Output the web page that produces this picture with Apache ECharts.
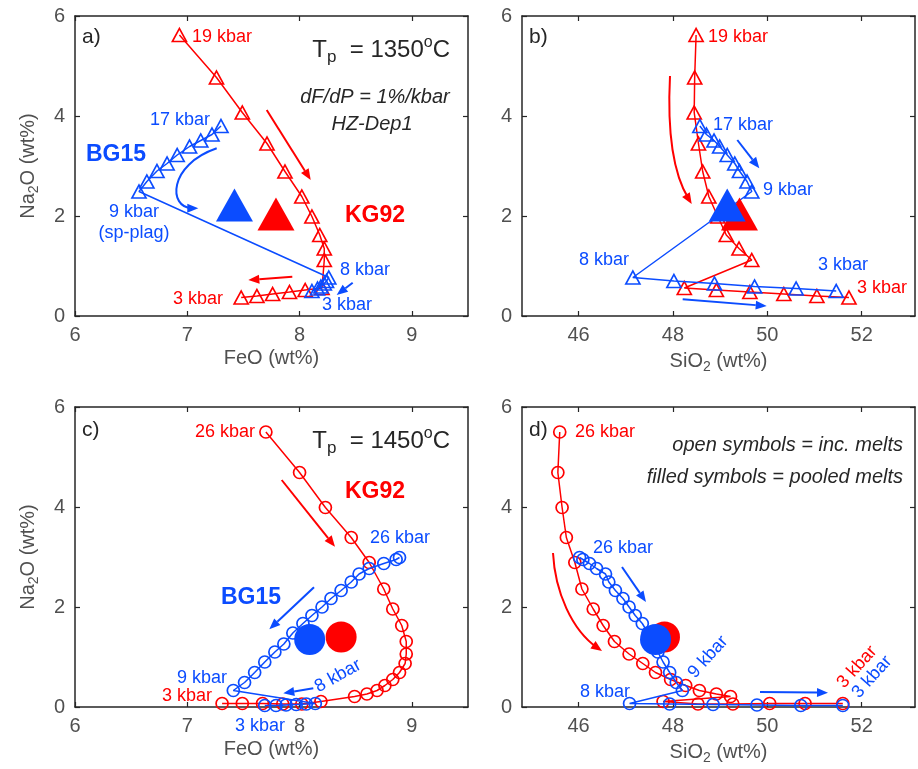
<!DOCTYPE html>
<html><head><meta charset="utf-8">
<script src="https://cdn.jsdelivr.net/npm/echarts@6/dist/echarts.min.js"></script>
<style>html,body{margin:0;padding:0;background:#fff}#c{width:918px;height:769px}</style>
</head><body><div id="c"></div>
<script>
// ---------- DATA ----------
// Tp = 1350 C, KG92 incremental melts (19 kbar -> 3 kbar)
const kg1350_FeO  = [6.93, 7.26, 7.49, 7.71, 7.87, 8.02, 8.11, 8.18, 8.22, 8.22, 8.20, 8.05, 7.91, 7.76, 7.62, 7.48];
const kg1350_SiO2 = [48.49, 48.46, 48.45, 48.54, 48.63, 48.76, 48.95, 49.13, 49.40, 49.67, 48.24, 48.92, 49.63, 50.35, 51.05, 51.73];
const kg1350_Na2O = [5.62, 4.77, 4.07, 3.45, 2.89, 2.39, 1.99, 1.62, 1.35, 1.12, 0.56, 0.52, 0.48, 0.44, 0.40, 0.37];
// Tp = 1350 C, BG15 incremental melts (17 kbar -> 3 kbar)
const bg1350_FeO  = [7.30, 7.22, 7.12, 7.02, 6.91, 6.82, 6.73, 6.64, 6.57, 8.26, 8.24, 8.22, 8.19, 8.16, 8.11];
const bg1350_SiO2 = [48.57, 48.71, 48.87, 48.99, 49.15, 49.31, 49.41, 49.57, 49.67, 47.15, 48.02, 48.88, 49.73, 50.61, 51.46];
const bg1350_Na2O = [3.80, 3.63, 3.51, 3.39, 3.22, 3.05, 2.90, 2.69, 2.49, 0.77, 0.70, 0.65, 0.59, 0.55, 0.50];
// Tp = 1350 C pooled melts
const pooled1350_kg = {FeO: 7.79, SiO2: 49.41, Na2O: 2.04};
const pooled1350_bg = {FeO: 7.42, SiO2: 49.15, Na2O: 2.22};

// Tp = 1450 C, KG92 incremental melts (26 kbar -> 3 kbar)
const kg1450_FeO  = [7.70, 8.00, 8.23, 8.46, 8.62, 8.75, 8.83, 8.91, 8.95, 8.95, 8.94, 8.89, 8.83, 8.76, 8.69, 8.60, 8.49, 8.19, 8.02, 7.85, 7.67, 7.49, 7.31];
const kg1450_SiO2 = [45.60, 45.56, 45.65, 45.74, 45.92, 46.07, 46.31, 46.52, 46.76, 47.07, 47.36, 47.63, 47.95, 48.27, 48.56, 48.92, 49.22, 47.79, 48.53, 49.27, 50.05, 50.80, 51.60];
const kg1450_Na2O = [5.50, 4.69, 3.99, 3.39, 2.89, 2.36, 1.96, 1.63, 1.31, 1.06, 0.87, 0.69, 0.55, 0.43, 0.33, 0.26, 0.21, 0.11, 0.06, 0.06, 0.07, 0.07, 0.07];
// Tp = 1450 C, BG15 incremental melts (26 kbar -> 3 kbar)
const bg1450_FeO  = [8.89, 8.86, 8.75, 8.62, 8.53, 8.46, 8.37, 8.28, 8.20, 8.11, 8.03, 7.94, 7.86, 7.78, 7.69, 7.60, 7.51, 7.41, 8.14, 8.06, 7.97, 7.88, 7.79, 7.69];
const bg1450_SiO2 = [46.02, 46.09, 46.23, 46.38, 46.57, 46.64, 46.78, 46.94, 47.07, 47.20, 47.35, 47.47, 47.58, 47.68, 47.79, 47.93, 48.07, 48.20, 47.08, 47.93, 48.85, 49.78, 50.71, 51.60];
const bg1450_Na2O = [2.99, 2.95, 2.87, 2.77, 2.66, 2.50, 2.33, 2.17, 2.00, 1.83, 1.67, 1.48, 1.26, 1.10, 0.90, 0.69, 0.49, 0.33, 0.07, 0.06, 0.05, 0.04, 0.03, 0.03];
// Tp = 1450 C pooled melts
const pooled1450_kg = {FeO: 8.37, SiO2: 47.82, Na2O: 1.40};
const pooled1450_bg = {FeO: 8.09, SiO2: 47.63, Na2O: 1.35};

// axis ticks
const feoTicks  = [6, 7, 8, 9];
const sioTicks  = [46, 48, 50, 52];
const na2oTicks = [0, 2, 4, 6];

// ---------- STYLE ----------
const RED = '#ff0000', BLUE = '#0b4cff', AX = '#262626', LBL = '#505050';
const FONT = '"Liberation Sans", Arial, Helvetica, sans-serif';

const grids = [
  {left: 75,  top: 16,  width: 393, height: 300},
  {left: 522, top: 16,  width: 393, height: 300},
  {left: 75,  top: 407, width: 393, height: 300},
  {left: 522, top: 407, width: 393, height: 300}
];
const feoName = 'FeO (wt%)';
const sioName = '{n|SiO}{s|2}{n| (wt%)}';
const naName  = '{n|Na}{s|2}{n|O (wt%)}';
const nameRich = {n: {fontSize: 20, fontFamily: FONT, color: LBL}, s: {fontSize: 14, fontFamily: FONT, color: LBL, padding: [12, 0, 0, 0]}};

const xAxes = [], yAxes = [];
grids.forEach((g, i) => {
  const isFeo = (i % 2 === 0);
  const rng = isFeo ? [6, 9.5] : [44.8, 53.13];
  const ticks = isFeo ? feoTicks : sioTicks;
  const common = {gridIndex: i, type: 'value', min: rng[0], max: rng[1], splitLine: {show: false},
    axisLine: {show: true, onZero: false, lineStyle: {color: AX, width: 1.5}},
    axisTick: {show: true, inside: true, length: 5, customValues: ticks, lineStyle: {color: AX, width: 1.2}}};
  xAxes.push(Object.assign({}, common, {position: 'bottom',
    axisLabel: {show: true, customValues: ticks, fontSize: 20, color: LBL, fontFamily: FONT, margin: 9},
    name: isFeo ? feoName : sioName, nameLocation: 'middle', nameGap: 32,
    nameTextStyle: {fontSize: 20, color: LBL, fontFamily: FONT, rich: nameRich}}));
  xAxes.push(Object.assign({}, common, {position: 'top', axisLabel: {show: false}}));
  const yc = {gridIndex: i, type: 'value', min: 0, max: 6, interval: 2, splitLine: {show: false},
    axisLine: {show: true, onZero: false, lineStyle: {color: AX, width: 1.5}},
    axisTick: {show: true, inside: true, length: 5, lineStyle: {color: AX, width: 1.2}}};
  yAxes.push(Object.assign({}, yc, {position: 'left',
    axisLabel: {show: true, fontSize: 20, color: LBL, fontFamily: FONT, margin: 10},
    name: (i % 2 === 0) ? naName : '', nameLocation: 'middle', nameGap: 34,
    nameTextStyle: {fontSize: 20, color: LBL, fontFamily: FONT, rich: nameRich}}));
  yAxes.push(Object.assign({}, yc, {position: 'right', axisLabel: {show: false}}));
});

function pairs(xs, ys) { return xs.map((x, k) => [x, ys[k]]); }
function inc(g, xs, ys, color, symbol, size, z) {
  return {type: 'line', xAxisIndex: 2 * g, yAxisIndex: 2 * g, data: pairs(xs, ys), z: z,
    symbol: symbol, symbolSize: size, showSymbol: true, showAllSymbol: true, animation: false,
    lineStyle: {color: color, width: 1.5}, itemStyle: {color: 'rgba(255,255,255,0)', borderColor: color, borderWidth: 1.7, opacity: 1},
    emphasis: {disabled: true}};
}
function pooled(g, x, y, color, symbol, size, z) {
  return {type: 'scatter', xAxisIndex: 2 * g, yAxisIndex: 2 * g, data: [[x, y]], z: z,
    symbol: symbol, symbolSize: size, itemStyle: {color: color, opacity: 1}, animation: false, emphasis: {disabled: true}};
}
const tri = [14, 13], cir = 12;
const series = [
  inc(0, kg1350_FeO, kg1350_Na2O, RED, 'triangle', tri, 2),
  inc(0, bg1350_FeO, bg1350_Na2O, BLUE, 'triangle', tri, 3),
  pooled(0, pooled1350_kg.FeO, pooled1350_kg.Na2O, RED, 'triangle', [37, 33], 4),
  pooled(0, pooled1350_bg.FeO, pooled1350_bg.Na2O, BLUE, 'triangle', [37, 33], 5),
  inc(1, kg1350_SiO2, kg1350_Na2O, RED, 'triangle', tri, 2),
  inc(1, bg1350_SiO2, bg1350_Na2O, BLUE, 'triangle', tri, 3),
  pooled(1, pooled1350_kg.SiO2, pooled1350_kg.Na2O, RED, 'triangle', [37, 33], 4),
  pooled(1, pooled1350_bg.SiO2, pooled1350_bg.Na2O, BLUE, 'triangle', [37, 33], 5),
  inc(2, kg1450_FeO, kg1450_Na2O, RED, 'circle', cir, 2),
  inc(2, bg1450_FeO, bg1450_Na2O, BLUE, 'circle', cir, 3),
  pooled(2, pooled1450_kg.FeO, pooled1450_kg.Na2O, RED, 'circle', 31, 4),
  pooled(2, pooled1450_bg.FeO, pooled1450_bg.Na2O, BLUE, 'circle', 31, 5),
  inc(3, kg1450_SiO2, kg1450_Na2O, RED, 'circle', cir, 2),
  inc(3, bg1450_SiO2, bg1450_Na2O, BLUE, 'circle', cir, 3),
  pooled(3, pooled1450_kg.SiO2, pooled1450_kg.Na2O, RED, 'circle', 31, 4),
  pooled(3, pooled1450_bg.SiO2, pooled1450_bg.Na2O, BLUE, 'circle', 31, 5)
];

// ---------- ANNOTATIONS (pixel positions) ----------
const G = [];
function txt(x, y, s, color, opt) {
  opt = opt || {};
  G.push({type: 'text', x: x, y: y, z: 100, rotation: (opt.rot || 0) * Math.PI / 180,
    style: {text: s, fill: color, align: opt.align || 'left', verticalAlign: 'middle',
      fontSize: opt.size || 18, fontFamily: FONT, fontWeight: opt.bold ? 'bold' : 'normal',
      fontStyle: opt.italic ? 'italic' : 'normal', rich: opt.rich}});
}
function head(x2, y2, ux, uy, color) {
  const L = 11, W = 4.5, bx = x2 - ux * L, by = y2 - uy * L;
  G.push({type: 'polygon', z: 100, shape: {points: [[x2, y2], [bx - uy * W, by + ux * W], [bx + uy * W, by - ux * W]]}, style: {fill: color}});
  return [bx, by];
}
function arrow(x1, y1, x2, y2, color) {
  const dx = x2 - x1, dy = y2 - y1, l = Math.hypot(dx, dy);
  const b = head(x2, y2, dx / l, dy / l, color);
  G.push({type: 'line', z: 100, shape: {x1: x1, y1: y1, x2: b[0], y2: b[1]}, style: {stroke: color, lineWidth: 2}});
}
function curve(x1, y1, c1x, c1y, c2x, c2y, x2, y2, color) {
  const dx = x2 - c2x, dy = y2 - c2y, l = Math.hypot(dx, dy);
  head(x2, y2, dx / l, dy / l, color);
  G.push({type: 'bezierCurve', z: 100, shape: {x1: x1, y1: y1, cpx1: c1x, cpy1: c1y, cpx2: c2x, cpy2: c2y, x2: x2 - dx / l * 6, y2: y2 - dy / l * 6},
    style: {stroke: color, lineWidth: 2, fill: null}});
}
const tpRich = {t: {fontSize: 24, fontFamily: FONT, color: AX}, s: {fontSize: 17, fontFamily: FONT, color: AX, padding: [15, 0, 0, 0]},
  u: {fontSize: 16, fontFamily: FONT, color: AX, padding: [0, 0, 15, 0]}};

// panel a
txt(82, 37, 'a)', AX, {size: 21});
txt(450, 50, '{t|T}{s|p}{t|  = 1350}{u|o}{t|C}', AX, {align: 'right', rich: tpRich});
txt(375, 97, 'dF/dP = 1%/kbar', AX, {align: 'center', italic: true, size: 20});
txt(372, 124, 'HZ-Dep1', AX, {align: 'center', italic: true, size: 20});
txt(192, 37, '19 kbar', RED);
txt(210, 120, '17 kbar', BLUE, {align: 'right'});
txt(86, 155, 'BG15', BLUE, {bold: true, size: 23});
txt(134, 212, '9 kbar', BLUE, {align: 'center'});
txt(134, 233, '(sp-plag)', BLUE, {align: 'center'});
txt(345, 216, 'KG92', RED, {bold: true, size: 23});
txt(340, 270, '8 kbar', BLUE);
txt(322, 305, '3 kbar', BLUE);
txt(223, 299, '3 kbar', RED, {align: 'right'});
arrow(266.7, 110, 310.7, 180, RED);
arrow(292.3, 276.7, 248.3, 280, RED);
arrow(352.7, 282.7, 336.7, 295, BLUE);
curve(216.7, 148.3, 168, 165, 168, 208, 198.3, 208.3, BLUE);
// panel b
txt(529, 37, 'b)', AX, {size: 21});
txt(708, 37, '19 kbar', RED);
txt(713, 125, '17 kbar', BLUE);
txt(763, 190, '9 kbar', BLUE);
txt(579, 260, '8 kbar', BLUE);
txt(818, 265, '3 kbar', BLUE);
txt(857, 288, '3 kbar', RED);
arrow(737.3, 140, 759.3, 168.3, BLUE);
arrow(682.7, 299.3, 766.7, 306, BLUE);
curve(670, 76, 667, 135, 674, 175, 691.7, 204, RED);
// panel c
txt(82, 430, 'c)', AX, {size: 21});
txt(450, 441, '{t|T}{s|p}{t|  = 1450}{u|o}{t|C}', AX, {align: 'right', rich: tpRich});
txt(255, 432, '26 kbar', RED, {align: 'right'});
txt(345, 492, 'KG92', RED, {bold: true, size: 23});
txt(370, 538, '26 kbar', BLUE);
txt(221, 598, 'BG15', BLUE, {bold: true, size: 23});
txt(177, 678, '9 kbar', BLUE);
txt(162, 696, '3 kbar', RED);
txt(235, 726, '3 kbar', BLUE);
txt(338, 676, '8 kbar', BLUE, {align: 'center', rot: 29});
arrow(281.7, 480, 335, 546.7, RED);
arrow(314, 587.3, 269.3, 629.3, BLUE);
arrow(313.3, 688.3, 283.3, 693.3, BLUE);
// panel d
txt(529, 430, 'd)', AX, {size: 21});
txt(575, 432, '26 kbar', RED);
txt(903, 445, 'open symbols = inc. melts', AX, {align: 'right', italic: true, size: 20});
txt(903, 477, 'filled symbols = pooled melts', AX, {align: 'right', italic: true, size: 20});
txt(593, 548, '26 kbar', BLUE);
txt(708, 657, '9 kbar', BLUE, {align: 'center', rot: 48});
txt(580, 692, '8 kbar', BLUE);
txt(857, 667, '3 kbar', RED, {align: 'center', rot: 48});
txt(872, 677, '3 kbar', BLUE, {align: 'center', rot: 48});
arrow(622, 567, 646, 602, BLUE);
arrow(760, 692, 828, 692.7, BLUE);
curve(553, 553, 555, 592, 572, 630, 602, 651, RED);

const chart = echarts.init(document.getElementById('c'), null, {renderer: 'canvas'});
chart.setOption({
  animation: false,
  backgroundColor: '#ffffff',
  grid: grids,
  xAxis: xAxes,
  yAxis: yAxes,
  series: series,
  graphic: G
});
</script>
</body></html>
